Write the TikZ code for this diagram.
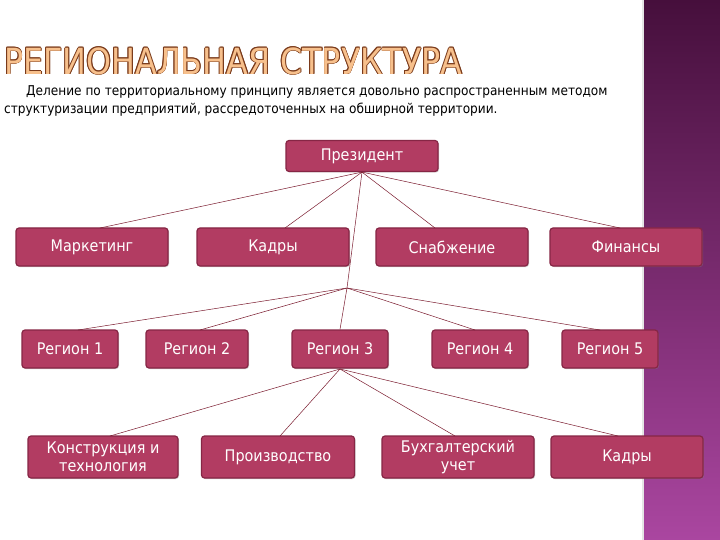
\documentclass[tikz,border=0pt]{standalone}
\usepackage{fontspec}
\setmainfont{DejaVu Sans Condensed}
\usetikzlibrary{shadows}
\definecolor{boxf}{HTML}{B23C62}
\definecolor{boxd}{HTML}{862645}
\definecolor{ln}{HTML}{7A1A2E}
\definecolor{ttl}{HTML}{F7C08C}
\definecolor{ttd}{HTML}{7A3A1A}
\newcommand{\ttltext}{РЕГИОНАЛЬНАЯ СТРУКТУРА}
\begin{document}
\begin{tikzpicture}[x=1pt,y=-1pt,
  bx/.style={draw=boxd,line width=1.2pt,fill=boxf,rounded corners=3pt,text=white,font=\fontsize{16}{18}\selectfont,align=center,inner sep=0pt,drop shadow={shadow xshift=1pt,shadow yshift=-1pt,opacity=0.4}},
  tt/.style={anchor=west,inner sep=0pt,font=\fontsize{36}{36}\selectfont,xscale=0.98,yscale=1.0},
  cn/.style={draw=ln,line width=0.5pt}]
\useasboundingbox (0,0) rectangle (720,540);
\fill[white] (0,0) rectangle (720,540);
\shade[top color={rgb,255:red,70;green,15;blue,60},bottom color={rgb,255:red,170;green,70;blue,160}] (643,0) rectangle (720,540);
\draw[white!80!gray,line width=1.5pt] (643,0) -- (643,540);
\foreach \dx/\dy in {-0.8/0,0.8/0,0/-0.8,0/0.8,-0.6/-0.6,0.6/0.6,-0.6/0.6,0.6/-0.6}
  \node[tt,text=ttd] at (4+\dx,61+\dy) {\ttltext};
\node[tt,text=ttl] (t) at (4,61) {\ttltext};
\node[anchor=north west,inner sep=0pt,align=left,font=\fontsize{13.5}{18}\selectfont] (d) at (4,85)
 {\hspace*{22pt}Деление по территориальному принципу является довольно распространенным методом\\структуризации предприятий, рассредоточенных на обширной территории.};
\node[bx,minimum width=152pt,minimum height=31pt] (p) at (362,156) {Президент};
\node[bx,minimum width=152pt,minimum height=38pt] (m) at (92,247) {Маркетинг};
\node[bx,minimum width=152pt,minimum height=38pt] (k) at (273,247) {Кадры};
\node[bx,minimum width=152pt,minimum height=38pt] (s) at (452,247) {Снабжение};
\node[bx,minimum width=152pt,minimum height=38pt] (f) at (626,247) {Финансы};
\node[bx,minimum width=96pt,minimum height=38pt] (r1) at (70,349) {Регион 1};
\node[bx,minimum width=102pt,minimum height=38pt] (r2) at (197,349) {Регион 2};
\node[bx,minimum width=96pt,minimum height=38pt] (r3) at (340,349) {Регион 3};
\node[bx,minimum width=96pt,minimum height=38pt] (r4) at (480,349) {Регион 4};
\node[bx,minimum width=96pt,minimum height=38pt] (r5) at (610,349) {Регион 5};
\node[bx,minimum width=150pt,minimum height=42pt] (c1) at (103,457) {Конструкция и\\технология};
\node[bx,minimum width=153pt,minimum height=42pt] (c2) at (278,457) {Производство};
\node[bx,minimum width=152pt,minimum height=42pt] (c3) at (458,457) {Бухгалтерский\\учет};
\node[bx,minimum width=152pt,minimum height=42pt] (c4) at (627,457) {Кадры};
\coordinate (h) at (347,288);
\coordinate (h2) at (340,369);
\draw[cn] (p.south) -- (100,228);
\draw[cn] (p.south) -- (285,228);
\draw[cn] (p.south) -- (435,228);
\draw[cn] (p.south) -- (620,228);
\draw[cn] (p.south) -- (h) -- (r3.north);
\draw[cn] (h) -- (78,330);
\draw[cn] (h) -- (200,330);
\draw[cn] (h) -- (475,330);
\draw[cn] (h) -- (600,330);
\draw[cn] (h2) -- (110,436);
\draw[cn] (h2) -- (280,436);
\draw[cn] (h2) -- (455,436);
\draw[cn] (h2) -- (618,436);
\end{tikzpicture}
\end{document}
